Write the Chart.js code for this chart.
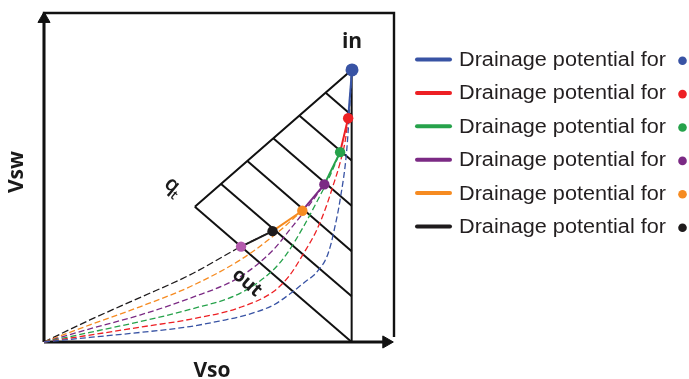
<!DOCTYPE html>
<html><head><meta charset="utf-8">
<script src="https://cdn.jsdelivr.net/npm/chart.js@4/dist/chart.umd.min.js"></script>
<style>html,body{margin:0;padding:0;background:#fff;}#wrap{width:689px;height:379px;position:relative;}</style>
</head><body><div id="wrap"><canvas id="c" width="689" height="379"></canvas></div>
<script>
// ---- data (diagram units: Vso 0..10, Vsw 0..10) ----
const legendLabels = ['Drainage potential for','Drainage potential for','Drainage potential for','Drainage potential for','Drainage potential for','Drainage potential for'];
const seriesColors = ['#3853a4','#ed2024','#26a24b','#7b2a84','#f68b21','#1e1b1c'];
const extraDotColor = '#b45aae';

// states (dots): in, then successive states, last = out point
const stateX = [8.80, 8.69, 8.46, 8.01, 7.38, 6.53, 5.63];
const stateY = [8.27, 6.80, 5.77, 4.79, 3.99, 3.37, 2.90];

// dashed drainage-potential curves (origin -> state)
const blueCurveX   = [0, 1.31, 2.74, 4.17, 5.12, 5.60, 6.08, 6.55, 7.05, 7.50, 7.70, 7.89, 8.02, 8.12, 8.20, 8.27, 8.46, 8.65, 8.80];
const blueCurveY   = [0, 0.14, 0.29, 0.47, 0.66, 0.77, 0.92, 1.12, 1.48, 1.86, 2.02, 2.25, 2.45, 2.70, 2.98, 3.30, 4.32, 5.84, 8.27];
const redCurveX    = [0, 1.31, 2.74, 4.17, 5.60, 6.55, 7.00, 7.41, 7.79, 8.05, 8.25, 8.46, 8.62, 8.69];
const redCurveY    = [0, 0.21, 0.45, 0.69, 1.05, 1.53, 2.00, 2.68, 3.40, 4.08, 4.72, 5.45, 6.20, 6.80];
const greenCurveX  = [0, 1.31, 2.74, 4.17, 5.60, 6.55, 6.95, 7.41, 7.79, 8.17, 8.46];
const greenCurveY  = [0, 0.29, 0.62, 0.99, 1.48, 2.19, 2.70, 3.50, 4.25, 5.05, 5.77];
const purpleCurveX = [0, 1.31, 2.74, 4.17, 5.60, 6.55, 7.05, 7.55, 8.01];
const purpleCurveY = [0, 0.40, 0.82, 1.33, 1.98, 2.80, 3.45, 4.12, 4.79];
const orangeCurveX = [0, 1.31, 2.74, 4.17, 5.60, 6.55, 7.38];
const orangeCurveY = [0, 0.52, 1.07, 1.68, 2.49, 3.22, 3.99];
const blackCurveX  = [0, 1.31, 2.74, 4.17, 5.63, 6.53];
const blackCurveY  = [0, 0.67, 1.35, 2.04, 2.90, 3.37];

// triangle (q_t region) and hatch lines
const triangleX = [4.31, 8.79, 8.79];
const triangleY = [4.11, 8.27, 0];
const hatchStartX = [8.04, 7.30, 6.55, 5.81, 5.06, 4.31];
const hatchStartY = [7.58, 6.88, 6.19, 5.50, 4.80, 4.11];
const hatchEndX   = [8.79, 8.79, 8.79, 8.79, 8.79, 8.79];
const hatchEndY   = [6.89, 5.52, 4.14, 2.76, 1.39, 0];

// frame / axes
const frameX = [0, 0, 10, 10];
const frameY = [0, 10, 10, 0.15];
const axisEndX = 9.78, axisEndY = 9.82;

const annotations = [
  {text:'in',  x:8.80, y:9.12, rot:0,   font:'bold 21px "Open Sans"'},
  {text:'out', x:5.80, y:1.80, rot:41,  font:'bold 19px "Open Sans"'}
];

// ---- build datasets ----
const pts = (xs, ys) => xs.map((x, i) => ({x, y: ys[i]}));
const curves = [
  [blueCurveX, blueCurveY], [redCurveX, redCurveY], [greenCurveX, greenCurveY],
  [purpleCurveX, purpleCurveY], [orangeCurveX, orangeCurveY], [blackCurveX, blackCurveY]
];
const datasets = [];
// dots
datasets.push({
  data: pts(stateX, stateY), showLine: false, order: 0, clip: false,
  pointRadius: stateX.map((_, i) => i === 0 ? 6.5 : 5.2),
  pointBackgroundColor: stateX.map((_, i) => i < 6 ? seriesColors[i] : extraDotColor),
  pointBorderWidth: 0
});
// solid path segments
for (let i = 0; i < 6; i++) {
  datasets.push({
    data: [{x: stateX[i], y: stateY[i]}, {x: stateX[i+1], y: stateY[i+1]}],
    showLine: true, borderColor: seriesColors[i], borderWidth: 2, pointRadius: 0, order: 1, clip: false
  });
}
// dashed curves
curves.forEach((c, i) => {
  datasets.push({
    data: pts(c[0], c[1]), showLine: true, borderColor: seriesColors[i], borderWidth: 1.3,
    borderDash: i === 5 ? [7, 3] : [6, 3], pointRadius: 0, order: 2, clip: false,
    cubicInterpolationMode: 'monotone'
  });
});
// triangle and hatch
datasets.push({data: pts(triangleX, triangleY), showLine: true, borderColor: '#111', borderWidth: 2, pointRadius: 0, order: 3, clip: false});
hatchStartX.forEach((sx, i) => {
  datasets.push({data: [{x: sx, y: hatchStartY[i]}, {x: hatchEndX[i], y: hatchEndY[i]}], showLine: true,
    borderColor: '#111', borderWidth: 2, pointRadius: 0, order: 3, clip: false});
});
// frame and axes
datasets.push({data: pts(frameX, frameY), showLine: true, borderColor: '#111', borderWidth: 2.4, pointRadius: 0, order: 4, clip: false});
datasets.push({data: [{x: 0, y: 0}, {x: axisEndX, y: 0}], showLine: true, borderColor: '#111', borderWidth: 2.8, pointRadius: 0, order: 4, clip: false});
datasets.push({data: [{x: 0, y: 0}, {x: 0, y: axisEndY}], showLine: true, borderColor: '#111', borderWidth: 2.8, pointRadius: 0, order: 4, clip: false});
datasets.push({data: [{x: 0, y: axisEndY}, {x: axisEndX, y: 0}], showLine: false, order: 4, clip: false,
  pointStyle: 'triangle', pointRadius: 7, pointRotation: [0, 90], pointBackgroundColor: '#111', pointBorderColor: '#111', pointBorderWidth: 1});

// ---- text plugin ----
const textPlugin = {
  id: 'diagramText',
  afterDatasetsDraw(chart) {
    const ctx = chart.ctx, xs = chart.scales.x, ys = chart.scales.y, ca = chart.chartArea;
    ctx.save();
    ctx.fillStyle = '#1a1a1a';
    ctx.textAlign = 'center'; ctx.textBaseline = 'middle';
    annotations.forEach(a => {
      ctx.save();
      ctx.translate(xs.getPixelForValue(a.x), ys.getPixelForValue(a.y));
      ctx.rotate(a.rot * Math.PI / 180);
      ctx.font = a.font;
      ctx.fillText(a.text, 0, 0);
      ctx.restore();
    });
    // q_t label
    ctx.save();
    ctx.translate(xs.getPixelForValue(3.66), ys.getPixelForValue(4.77));
    ctx.rotate(40 * Math.PI / 180);
    ctx.font = '600 21px "Open Sans"';
    ctx.fillText('q', 0, 0);
    ctx.font = '600 13px "Open Sans"';
    ctx.fillText('t', 8, 7);
    ctx.restore();
    // axis titles
    ctx.font = 'bold 21px "Open Sans"';
    ctx.fillText('Vso', 212, ca.bottom + 29);
    ctx.save();
    ctx.translate(ca.left - 27, (ca.top + ca.bottom) / 2 - 5.5);
    ctx.rotate(-Math.PI / 2);
    ctx.fillText('Vsw', 0, 0);
    ctx.restore();
    // legend
    legendLabels.forEach((lab, i) => {
      const y = 59.5 + 33.4 * i;
      ctx.strokeStyle = seriesColors[i]; ctx.lineWidth = 4; ctx.lineCap = 'round';
      ctx.beginPath(); ctx.moveTo(417, y); ctx.lineTo(450, y); ctx.stroke();
      ctx.fillStyle = '#231f20';
      ctx.font = '20px "Liberation Sans", Arial, sans-serif';
      ctx.textAlign = 'left';
      const w = ctx.measureText(lab).width;
      ctx.save();
      ctx.translate(459, y + 1);
      ctx.scale(207 / w, 1);
      ctx.fillText(lab, 0, 0);
      ctx.restore();
      ctx.fillStyle = seriesColors[i];
      ctx.beginPath(); ctx.arc(682.5, y + 1.2, 4.3, 0, Math.PI * 2); ctx.fill();
    });
    ctx.restore();
  }
};

new Chart(document.getElementById('c'), {
  type: 'scatter',
  data: {datasets},
  options: {
    responsive: false, animation: false, devicePixelRatio: 1,
    layout: {padding: {left: 44, top: 13, right: 295, bottom: 37}, autoPadding: false},
    scales: {
      x: {type: 'linear', min: 0, max: 10, display: false},
      y: {type: 'linear', min: 0, max: 10, display: false}
    },
    plugins: {legend: {display: false}, tooltip: {enabled: false}},
    elements: {line: {tension: 0}}
  },
  plugins: [textPlugin]
});
</script>
</body></html>
